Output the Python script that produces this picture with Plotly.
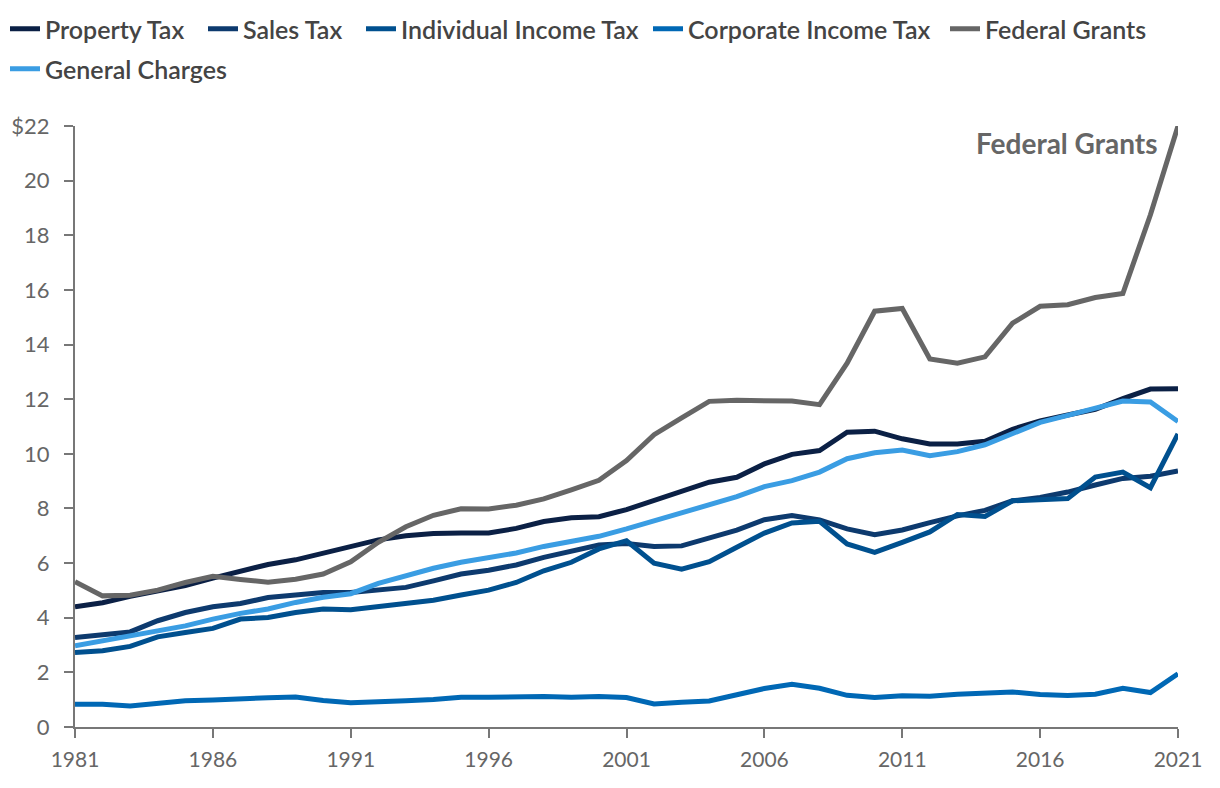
import plotly.graph_objects as go

years = list(range(1981, 2022))

property_tax = [4.40, 4.55, 4.78, 4.98, 5.18, 5.45, 5.70, 5.95, 6.12, 6.35,
                6.58, 6.85, 7.00, 7.08, 7.10, 7.10, 7.27, 7.52, 7.66, 7.70,
                7.96, 8.29, 8.59, 8.96, 9.14, 9.63, 9.98, 10.12, 10.79, 10.83,
                10.55, 10.36, 10.36, 10.46, 10.90, 11.20, 11.42, 11.63, 12.02, 12.37,
                12.38]

sales_tax = [3.28, 3.36, 3.48, 3.89, 4.19, 4.40, 4.52, 4.74, 4.83, 4.92,
             4.92, 5.01, 5.11, 5.35, 5.60, 5.74, 5.93, 6.21, 6.45, 6.66,
             6.72, 6.61, 6.63, 6.91, 7.21, 7.59, 7.74, 7.58, 7.25, 7.04,
             7.21, 7.48, 7.73, 7.93, 8.28, 8.40, 8.60, 8.86, 9.10, 9.18,
             9.37]

individual_income_tax = [2.73, 2.79, 2.95, 3.30, 3.46, 3.61, 3.95, 4.01, 4.19, 4.32,
                         4.29, 4.40, 4.54, 4.64, 4.83, 5.01, 5.29, 5.72, 6.03, 6.52,
                         6.82, 6.00, 5.78, 6.05, 6.58, 7.10, 7.47, 7.53, 6.70, 6.39,
                         6.76, 7.14, 7.78, 7.71, 8.28, 8.34, 8.36, 9.15, 9.33, 8.76,
                         10.73]

corporate_income_tax = [0.83, 0.83, 0.77, 0.88, 0.96, 0.99, 1.05, 1.07, 1.10, 0.97,
                        0.89, 0.91, 0.96, 1.01, 1.09, 1.09, 1.12, 1.12, 1.09, 1.12,
                        1.08, 0.84, 0.91, 0.95, 1.18, 1.41, 1.56, 1.42, 1.16, 1.08,
                        1.14, 1.13, 1.20, 1.23, 1.28, 1.19, 1.15, 1.20, 1.42, 1.26,
                        1.95]

federal_grants = [5.32, 4.80, 4.82, 5.01, 5.29, 5.52, 5.40, 5.30, 5.41, 5.60,
                  6.05, 6.76, 7.33, 7.75, 7.99, 7.98, 8.12, 8.35, 8.68, 9.03,
                  9.75, 10.70, 11.32, 11.92, 11.96, 11.96, 11.93, 11.80, 13.32, 15.22,
                  15.32, 13.47, 13.32, 13.55, 14.78, 15.40, 15.46, 15.72, 15.87, 18.75,
                  22.0]

general_charges = [2.97, 3.15, 3.34, 3.55, 3.70, 3.95, 4.16, 4.32, 4.56, 4.75,
                   4.88, 5.26, 5.54, 5.81, 6.03, 6.21, 6.37, 6.61, 6.80, 6.98,
                   7.25, 7.55, 7.86, 8.16, 8.43, 8.80, 9.02, 9.33, 9.82, 10.04,
                   10.14, 9.93, 10.08, 10.33, 10.73, 11.15, 11.41, 11.65, 11.93, 11.90,
                   11.18]

series_names = ["Property Tax", "Sales Tax", "Individual Income Tax",
                "Corporate Income Tax", "Federal Grants", "General Charges"]
series_values = [property_tax, sales_tax, individual_income_tax,
                 corporate_income_tax, federal_grants, general_charges]
colors = ["#0B2045", "#0D3A6E", "#00508F", "#0068B5", "#666666", "#3A9DE3"]

x_tickvals = list(range(1981, 2022, 5))
y_tickvals = list(range(0, 23, 2))
y_ticktext = [str(v) for v in y_tickvals[:-1]] + ["$22"]

FONT = "Lato, 'Open Sans', sans-serif"

# legend entry placement (pixels in the 1220x788 page): left edge, top edge
legend_pos = [(5, 6), (203, 6), (361, 6), (648, 6), (945, 6), (5, 46)]

fig = go.Figure()
legend_layouts = {}
for i, (name, vals, col) in enumerate(zip(series_names, series_values, colors)):
    lg = "legend" if i == 0 else f"legend{i + 1}"
    fig.add_trace(go.Scatter(
        x=years, y=vals, mode="lines", name=name,
        line=dict(color=col, width=5),
        legend=lg,
    ))
    px, py = legend_pos[i]
    legend_layouts[lg] = dict(
        orientation="h", xref="container", yref="container",
        xanchor="left", yanchor="top",
        x=px / 1220, y=1 - py / 788,
        font=dict(family=FONT, size=25, color="#444444", weight=600),
        bgcolor="rgba(0,0,0,0)", itemwidth=30,
    )

fig.update_layout(
    width=1220, height=788,
    margin=dict(l=75, r=42, t=126, b=61),
    paper_bgcolor="white", plot_bgcolor="white",
    font=dict(family=FONT, color="#666666"),
    showlegend=True,
    xaxis=dict(
        range=[1981, 2021], tickvals=x_tickvals, showgrid=False, zeroline=False,
        showline=True, linecolor="#777777", linewidth=2,
        ticks="outside", ticklen=9, tickwidth=2, tickcolor="#777777",
        ticklabelstandoff=4,
        tickfont=dict(family=FONT, size=21, color="#666666"),
    ),
    yaxis=dict(
        range=[0, 22], tickvals=y_tickvals, ticktext=y_ticktext,
        showgrid=False, zeroline=False,
        showline=True, linecolor="#777777", linewidth=2,
        ticks="outside", ticklen=9, tickwidth=2, tickcolor="#777777",
        ticklabelstandoff=10,
        tickfont=dict(family=FONT, size=22, color="#666666"),
    ),
    annotations=[dict(
        x=2020.35, y=21.38, xref="x", yref="y", text="<b>Federal Grants</b>",
        showarrow=False, xanchor="right", yanchor="middle",
        font=dict(family=FONT, size=28, color="#666666"),
    )],
    **legend_layouts,
)

fig.write_html("out.html")
